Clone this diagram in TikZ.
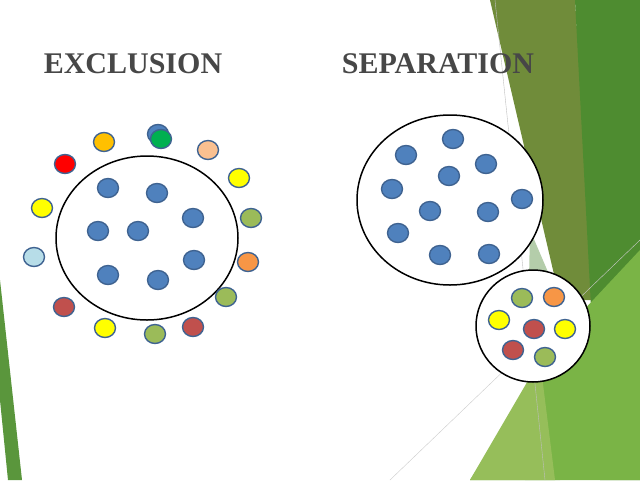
\documentclass[tikz,border=0pt]{standalone}
\usepackage{fontspec}
\setmainfont{Liberation Serif}
\begin{document}
\begin{tikzpicture}[x=1pt,y=-1pt,
  ttl/.style={font=\bfseries\fontsize{30}{34}\selectfont,text=black!72}]
\definecolor{cblue}{HTML}{4F81BD}
\definecolor{cred}{HTML}{FF0000}
\definecolor{corange}{HTML}{F79646}
\definecolor{cgold}{HTML}{FFC000}
\definecolor{cgreen}{HTML}{00B050}
\definecolor{cpeach}{HTML}{FAC090}
\definecolor{cyellow}{HTML}{FFFF00}
\definecolor{colive}{HTML}{9BBB59}
\definecolor{cbrown}{HTML}{C0504D}
\definecolor{clblue}{HTML}{B7DDE8}
\definecolor{cline}{HTML}{3F6391}
\useasboundingbox (0,0) rectangle (640,480);
\fill[white] (0,0) rectangle (640,480);
% background decoration
\fill[color={rgb,255:red,112;green,140;blue,58}] (490,0) -- (575,0) -- (595,300) -- (560,300) -- cycle;
\fill[color={rgb,255:red,78;green,140;blue,48}] (575,0) -- (640,0) -- (640,480) -- (600,480) -- cycle;
\fill[color={rgb,255:red,180;green,205;blue,170}] (530,230) -- (560,300) -- (560,480) -- (525,480) -- cycle;
\fill[color={rgb,255:red,122;green,180;blue,70}] (470,480) -- (565,330) -- (640,250) -- (640,480) -- cycle;
\fill[color={rgb,255:red,150;green,190;blue,90}] (470,480) -- (540,360) -- (555,480) -- cycle;
\draw[gray!50] (495,0) -- (545,480);
\draw[gray!40] (390,480) -- (640,240);
\fill[color={rgb,255:red,90;green,150;blue,60}] (0,280) -- (22,480) -- (8,480) -- (0,400) -- cycle;
% titles
\node[ttl] (t1) at (133,64) {EXCLUSION};
\node[ttl] (t2) at (438,64) {SEPARATION};
% circles
\draw[line width=1.5pt,fill=white] (147,238) ellipse [x radius=91,y radius=82];
\draw[line width=1.5pt,fill=white] (450,200) ellipse [x radius=93,y radius=85];
\draw[line width=1.5pt,fill=white] (533,326) ellipse [x radius=57,y radius=56];
% dots
\foreach \c/\x/\y in {cblue/108/188,cblue/157/193,cblue/193/218,cblue/98/231,cblue/138/231,cblue/194/260,cblue/108/275,cblue/158/280,
 cred/65/164,cgold/104/142,cblue/158/134,cgreen/161/139,cpeach/208/150,cyellow/239/178,colive/251/218,corange/248/262,colive/226/297,cbrown/193/327,colive/155/334,cyellow/105/328,cbrown/64/307,clblue/34/257,cyellow/42/208,
 cblue/453/139,cblue/406/155,cblue/486/164,cblue/449/176,cblue/392/189,cblue/522/199,cblue/430/211,cblue/488/212,cblue/398/233,cblue/440/255,cblue/489/254,
 colive/522/298,corange/554/297,cyellow/499/320,cbrown/534/329,cyellow/565/329,cbrown/513/350,colive/545/357}
  \draw[fill=\c,draw=cline,line width=1.4pt] (\x,\y) ellipse [x radius=10.5,y radius=9.5];
\end{tikzpicture}
\end{document}
